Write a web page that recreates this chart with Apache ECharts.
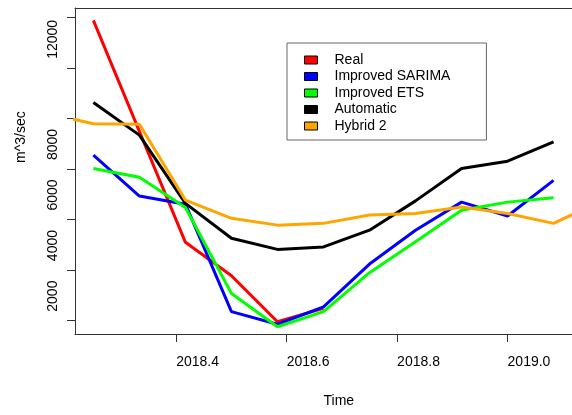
<!DOCTYPE html>
<html>
<head>
<meta charset="utf-8">
<script src="https://cdn.jsdelivr.net/npm/echarts@6/dist/echarts.min.js"></script>
<style>
  html, body { margin: 0; padding: 0; background: #fff; }
  #chart { width: 572px; height: 415px; }
</style>
</head>
<body>
<div id="chart"></div>
<script>
// monthly time points (decimal years), Apr 2018 .. Feb 2019
const times = [2018.25, 2018.3333, 2018.4167, 2018.5, 2018.5833, 2018.6667,
  2018.75, 2018.8333, 2018.9167, 2019.0, 2019.0833];
// hybrid 2 runs one month further on each side (clipped by the plot box)
const timesHybrid = [2018.1667].concat(times, [2019.1667]);

const real = [13880, 9490, 5100, 3780, 1960, 2490];
const sarima = [8550, 6930, 6610, 2360, 1860, 2550, 4240, 5580, 6690, 6140, 7550];
const ets = [8020, 7670, 6480, 3080, 1760, 2360, 3900, 5120, 6370, 6690, 6860];
const automatic = [10630, 9340, 6640, 5260, 4820, 4920, 5580, 6740, 8020, 8310, 9070];
const hybrid2 = [10200, 9790, 9770, 6770, 6050, 5780, 5850, 6180, 6240, 6500, 6240, 5850, 6700];

const xTicks = [2018.4, 2018.6, 2018.8, 2019.0];
const yTicks = [2000, 4000, 6000, 8000, 10000, 12000, 14000];
const yLabels = [2000, 4000, 6000, 8000, 12000];

const font = 'Liberation Sans, Arial, sans-serif';
const boxColor = '#333';

function pairs(xs, ys) {
  return ys.map((v, i) => [xs[i], v]);
}

function line(name, color, xs, ys) {
  return {
    name: name,
    type: 'line',
    data: pairs(xs, ys),
    symbol: 'none',
    itemStyle: { color: color },
    lineStyle: { color: color, width: 3 },
    emphasis: { disabled: true }
  };
}

const chart = echarts.init(document.getElementById('chart'));

chart.setOption({
  animation: false,
  backgroundColor: '#fff',
  textStyle: { fontFamily: font },
  // plot box runs past the right edge of the picture
  grid: { left: 75, top: 8, width: 500, height: 326 },
  legend: {
    orient: 'vertical',
    left: 287, top: 43,
    padding: [9, 36, 6, 17],
    borderColor: '#666', borderWidth: 1,
    icon: 'rect',
    itemWidth: 13, itemHeight: 8, itemGap: 0.5,
    itemStyle: { borderColor: '#000', borderWidth: 1 },
    textStyle: { fontFamily: font, fontSize: 14, color: '#000', lineHeight: 16, padding: [0, 0, 0, 12] },
    selectedMode: false
  },
  xAxis: [{
    type: 'value',
    min: 2018.2167, max: 2019.1167,
    name: 'Time',
    nameLocation: 'middle',
    nameGap: 60,
    nameTextStyle: { fontFamily: font, fontSize: 14, color: '#000', align: 'left', verticalAlign: 'top' },
    splitLine: { show: false },
    axisLine: { show: true, lineStyle: { color: boxColor } },
    axisTick: { show: true, length: 8, customValues: xTicks, lineStyle: { color: boxColor } },
    axisLabel: {
      customValues: xTicks,
      formatter: v => v.toFixed(1),
      fontFamily: font, fontSize: 14, color: '#000',
      align: 'left', margin: 21
    }
  }, {
    // top edge of the box
    type: 'value',
    position: 'top',
    min: 2018.2167, max: 2019.1167,
    splitLine: { show: false },
    axisLine: { show: true, lineStyle: { color: boxColor } },
    axisTick: { show: false },
    axisLabel: { show: false }
  }],
  yAxis: {
    type: 'value',
    min: 1475, max: 14367,
    name: 'm^3/sec',
    nameLocation: 'middle',
    nameGap: 47,
    nameTextStyle: { fontFamily: font, fontSize: 14, color: '#000', align: 'left', padding: [0, 0, 0, 8] },
    splitLine: { show: false },
    axisLine: { show: true, lineStyle: { color: boxColor } },
    axisTick: { show: true, length: 8, customValues: yTicks, lineStyle: { color: boxColor } },
    axisLabel: {
      customValues: yLabels,
      formatter: v => String(v),
      rotate: 90,
      fontFamily: font, fontSize: 14, color: '#000',
      align: 'left', padding: [0, 0, 0, 9], margin: 15
    }
  },
  series: [
    line('Real', '#ff0000', times, real),
    line('Improved SARIMA', '#0000ff', times, sarima),
    line('Improved ETS', '#00ff00', times, ets),
    line('Automatic', '#000000', times, automatic),
    line('Hybrid 2', '#ffa500', timesHybrid, hybrid2)
  ]
});
</script>
</body>
</html>
